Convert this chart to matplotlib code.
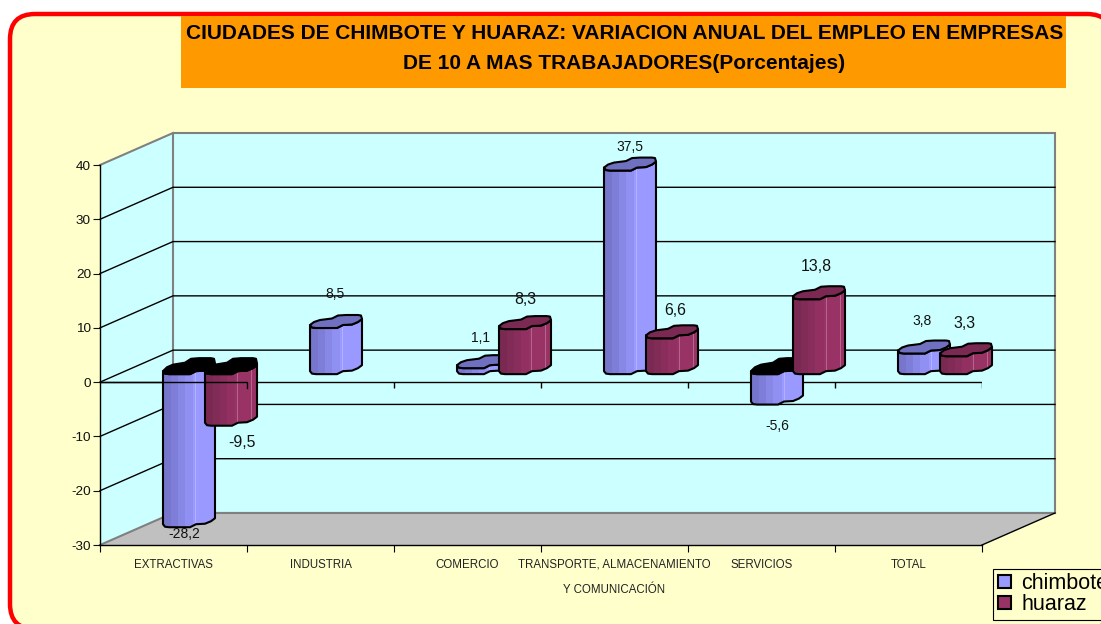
#!/bin/python3
# -*- coding: utf-8 -*-

#################################################
#     Libraries
#################################################
import numpy as np
import matplotlib
matplotlib.use( "Agg" )
import matplotlib.pyplot as plt
from matplotlib.colors import to_rgb
from matplotlib.patches import FancyBboxPatch, Patch, Polygon, Rectangle
from matplotlib.transforms import IdentityTransform

plt.rcParams[ "font.family" ] = [ "Liberation Sans", "DejaVu Sans" ]
plt.rcParams[ "axes.unicode_minus" ] = False

#################################################
#     Data
#################################################
categories = [ "EXTRACTIVAS", "INDUSTRIA", "COMERCIO", "TRANSPORTE, ALMACENAMIENTO\nY COMUNICACIÓN", "SERVICIOS", "TOTAL" ]
chimbote = [ -28.2, 8.5, 1.1, 37.5, -5.6, 3.8 ]
huaraz = [ -9.5, np.nan, 8.3, 6.6, 13.8, 3.3 ]
y_ticks = [ -30, -20, -10, 0, 10, 20, 30, 40 ]
title = "CIUDADES DE CHIMBOTE Y HUARAZ: VARIACION ANUAL DEL EMPLEO EN EMPRESAS\nDE 10 A MAS TRABAJADORES(Porcentajes)"

# Where each value label sits, in pixels from the left corner and the end of its bar
chimbote_label_nudge = [ ( 21, -10 ), ( 25, 31 ), ( 24, 27 ), ( 26, 21 ), ( 26, -24 ), ( 24, 30 ) ]
huaraz_label_nudge = [ ( 37, -20 ), ( 0, 0 ), ( 26, 27 ), ( 29, 25 ), ( 23, 30 ), ( 25, 30 ) ]

#################################################
#     Layout constants
#################################################
W, H = 1101, 624
PX_X = 6 / 882   # category units per pixel
PX_Y = 70 / 380  # value units per pixel
DEPTH_X = 73 * PX_X
DEPTH_Y = 32 * PX_Y
BASE_LIFT = 11 * PX_Y

CHIMBOTE_DARK, CHIMBOTE_LIGHT, CHIMBOTE_TOP = "#7676CC", "#9999FF", "#7070C0"
HUARAZ_DARK, HUARAZ_LIGHT, HUARAZ_TOP = "#7A2952", "#993366", "#7A2952"

# Wavy outline of a bar section, pixels from the left corner
EDGE_FRONT = [ ( 0, 0 ), ( 2, -2.5 ), ( 6, -3 ), ( 27, -3 ), ( 33, 0 ), ( 42, 0.5 ), ( 48, 3 ), ( 52, 6 ) ]
EDGE_BACK = [ ( 0, 0 ), ( 4, 3 ), ( 10, 5 ), ( 22, 6.5 ), ( 28, 9.5 ), ( 36, 10 ), ( 48, 10 ), ( 51, 9.5 ), ( 52, 6 ) ]

#################################################
#     Helpers
#################################################
def edge( x_left, level, profile, lift = 1 ):
    return [ ( x_left + px * PX_X, level + py * lift * PX_Y ) for px, py in profile ]

def draw_bar( ax, x_left, value, dark, light, top_colour, highlights, z ):
    top_level = BASE_LIFT + max( value, 0 )
    bottom_level = BASE_LIFT + min( value, 0 )

    outline = edge( x_left, top_level, EDGE_FRONT ) + edge( x_left, bottom_level, EDGE_FRONT )[ ::-1 ]
    front = Polygon( outline, closed = True, facecolor = "none", edgecolor = "black", lw = 1.5, joinstyle = "round", clip_on = False, zorder = z + 0.2 )
    ax.add_patch( front )

    # Stepped shading across the bar, as Excel draws it
    shade = np.minimum( np.floor( np.linspace( 0, 1, 52 ) * 7 ) / 4, 1 )
    colours = np.outer( 1 - shade, to_rgb( dark ) ) + np.outer( shade, to_rgb( light ) )
    for col in highlights:
        colours[ col ] = colours[ col ] * 0.75 + 0.25
    image = ax.imshow( colours[ np.newaxis, :, : ], extent = ( x_left, x_left + 52 * PX_X, bottom_level - 4, top_level + 4 ), aspect = "auto", interpolation = "nearest", zorder = z )
    image.set_clip_path( Polygon( outline, closed = True, transform = ax.transData ) )
    image.set_clip_box( ax.figure.bbox )  # the last bar pokes out of the axes

    # The open top of a negative bar is black and looks a little deeper
    lid_colour, lift = ( "black", 1.3 ) if value < 0 else ( top_colour, 1 )
    lid = edge( x_left, top_level, EDGE_BACK, lift ) + edge( x_left, top_level, EDGE_FRONT )[ ::-1 ]
    ax.add_patch( Polygon( lid, closed = True, facecolor = lid_colour, edgecolor = "black", lw = 1.5, joinstyle = "round", clip_on = False, zorder = z + 0.3 ) )

#################################################
#     Figure and frame
#################################################
fig = plt.figure( figsize = ( W / 100, H / 100 ), dpi = 100, facecolor = "white" )

fig.add_artist( FancyBboxPatch( ( 10, -5 ), 1102, 615, boxstyle = "round,pad=0,rounding_size=25", facecolor = "#FFFFCC", edgecolor = "#FF0000", lw = 3.2, transform = IdentityTransform(), zorder = -2 ) )
fig.add_artist( Rectangle( ( 181, H - 88 ), 885, 72, facecolor = "#FF9900", edgecolor = "none", transform = IdentityTransform(), zorder = -1 ) )
fig.text( 624.5 / W, 1 - 48.5 / H, title, ha = "center", va = "center", fontsize = 15, fontweight = "bold", color = "black", linespacing = 1.68 )

ax = fig.add_axes( [ 100 / W, ( H - 545 ) / H, 882 / W, 380 / H ] )
ax.patch.set_visible( False )
ax.set_autoscale_on( False )
ax.set_xlim( 0, 6 )
ax.set_ylim( -30, 40 )

#################################################
#     Walls and floor
#################################################
y_min, y_max = y_ticks[ 0 ], y_ticks[ -1 ]
n = len( categories )
ax.add_patch( Polygon( [ ( 0, y_min ), ( DEPTH_X, y_min + DEPTH_Y ), ( DEPTH_X, y_max + DEPTH_Y ), ( 0, y_max ) ], facecolor = "#CCFFFF", edgecolor = "none", clip_on = False, zorder = 1 ) )
ax.add_patch( Rectangle( ( DEPTH_X, y_min + DEPTH_Y ), n, y_max - y_min, facecolor = "#CCFFFF", edgecolor = "#808080", lw = 1.5, clip_on = False, zorder = 1 ) )
ax.add_patch( Polygon( [ ( 0, y_min ), ( n, y_min ), ( n + DEPTH_X, y_min + DEPTH_Y ), ( DEPTH_X, y_min + DEPTH_Y ) ], facecolor = "#C0C0C0", edgecolor = "none", clip_on = False, zorder = 1.1 ) )

ax.plot( [ DEPTH_X, n + DEPTH_X ], [ y_min + DEPTH_Y ] * 2, color = "#808080", lw = 1.5, clip_on = False, zorder = 1.2 )
ax.plot( [ 0, DEPTH_X ], [ y_min, y_min + DEPTH_Y ], color = "#808080", lw = 1.5, clip_on = False, zorder = 1.2 )
ax.plot( [ 0, DEPTH_X ], [ y_max, y_max + DEPTH_Y ], color = "#808080", lw = 1.5, clip_on = False, zorder = 1.2 )
ax.plot( [ n, n + DEPTH_X ], [ y_min, y_min + DEPTH_Y ], color = "black", lw = 1, clip_on = False, zorder = 1.3 )

for tick in y_ticks[ 1:-1 ]:
    ax.plot( [ 0, DEPTH_X, n + DEPTH_X ], [ tick, tick + DEPTH_Y, tick + DEPTH_Y ], color = "black", lw = 1, clip_on = False, zorder = 2 )

#################################################
#     Zero axis
#################################################
boundaries = np.arange( 0, n + 1 )
ax.axhline( 0, color = "black", lw = 1, zorder = 3 )
ax.vlines( boundaries[ 1: ], -6 * PX_Y, 0, color = "black", lw = 1, zorder = 3 )

#################################################
#     Bars
#################################################
z = 4.0
for i in range( n ):
    draw_bar( ax, i + 63 * PX_X, chimbote[ i ], CHIMBOTE_DARK, CHIMBOTE_LIGHT, CHIMBOTE_TOP, [ 32 ], z )
    z += 0.5
    if not np.isnan( huaraz[ i ] ):
        draw_bar( ax, i + 105 * PX_X, huaraz[ i ], HUARAZ_DARK, HUARAZ_LIGHT, HUARAZ_TOP, [ 32, 46 ], z )
        z += 0.5

# The zero line runs over the first pair of bars
ax.plot( [ 0, 1, 1 ], [ 0, 0, -6 * PX_Y ], color = "black", lw = 1, zorder = z )

#################################################
#     Value labels
#################################################
def add_labels( values, nudges, x_start, size ):
    for i, ( value, nudge ) in enumerate( zip( values, nudges ) ):
        if np.isnan( value ):
            continue
        ax.annotate( "{:.1f}".format( value ).replace( ".", "," ), xy = ( i + x_start, BASE_LIFT + value ), xytext = nudge, textcoords = "offset pixels", ha = "center", va = "center", fontsize = size, color = "#111111", annotation_clip = False, zorder = 50 )

add_labels( chimbote, chimbote_label_nudge, 63 * PX_X, 10 )
add_labels( huaraz, huaraz_label_nudge, 105 * PX_X, 11.4 )

#################################################
#     Axes, ticks and legend
#################################################
for side in [ "top", "right" ]:
    ax.spines[ side ].set_visible( False )
for side in [ "left", "bottom" ]:
    ax.spines[ side ].set_linewidth( 1 )

ax.set_yticks( y_ticks )
ax.tick_params( axis = "y", length = 5, width = 0.8, labelsize = 9.7, pad = 1.5, colors = "#111111" )
ax.set_xticks( boundaries )
ax.set_xticklabels( [] )
ax.set_xticks( boundaries[ :-1 ] + 0.5, labels = categories, minor = True )
ax.tick_params( axis = "x", which = "major", length = 5, width = 0.8 )
ax.tick_params( axis = "x", which = "minor", length = 0, pad = 10, labelsize = 8.3, colors = "#222222" )
for label in ax.get_xticklabels( minor = True ):
    label.set_linespacing( 2.5 )

handles = [ Patch( facecolor = CHIMBOTE_LIGHT, edgecolor = "black", lw = 1.5, label = "chimbote" ), Patch( facecolor = HUARAZ_LIGHT, edgecolor = "black", lw = 1.5, label = "huaraz" ) ]
legend = ax.legend( handles = handles, loc = "lower left", bbox_to_anchor = ( 993.5 / W, ( H - 619.5 ) / H ), bbox_transform = fig.transFigure, borderaxespad = 0, borderpad = 0.2, fancybox = False, edgecolor = "black", facecolor = "#FFFFCC", framealpha = 1, fontsize = 15.5, handlelength = 0.6, handleheight = 0.6, handletextpad = 0.5, labelspacing = 0 )
legend.set_zorder( 60 )
legend.get_frame().set_linewidth( 0.8 )

fig.savefig( "out.png", dpi = 100 )
